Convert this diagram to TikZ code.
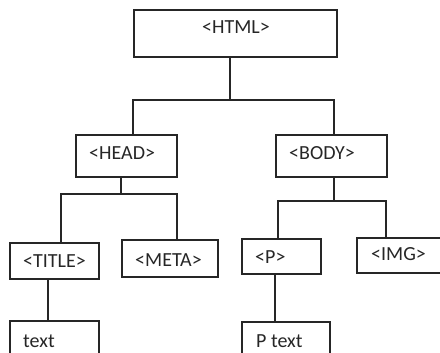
\documentclass[tikz,border=0pt]{standalone}
\usepackage{fontspec}
\setmainfont{Carlito}
\begin{document}
\begin{tikzpicture}[x=1pt,y=-1pt,
  box/.style={draw=black!85, line width=1.4pt, inner sep=0pt, outer sep=0pt, anchor=north west},
  lbl/.style={inner sep=0pt, anchor=base west, font=\fontsize{20}{22}\selectfont, text=black!85},
  conn/.style={draw=black!85, line width=1.4pt}]
\useasboundingbox (0,0) rectangle (440,353);
% boxes
\node[box, minimum width=203pt, minimum height=47pt] (html) at (134,10) {};
\node[box, minimum width=101pt, minimum height=42pt] (head) at (76,135) {};
\node[box, minimum width=111pt, minimum height=42pt] (body) at (276,135) {};
\node[box, minimum width=89pt, minimum height=36pt] (title) at (10,243) {};
\node[box, minimum width=96pt, minimum height=37pt] (meta) at (122,240) {};
\node[box, minimum width=79pt, minimum height=35pt] (p) at (242,239) {};
\node[box, minimum width=86pt, minimum height=35pt] (img) at (357,238) {};
\node[box, minimum width=89pt, minimum height=40pt] (txt) at (10,321) {};
\node[box, minimum width=88pt, minimum height=40pt] (ptxt) at (242,322) {};
% labels
\node[lbl] (lhtml) at (202,34) {<HTML>};
\node[lbl] (lhead) at (89,160) {<HEAD>};
\node[lbl] (lbody) at (289,160) {<BODY>};
\node[lbl] (ltitle) at (23,268) {<TITLE>};
\node[lbl] (lmeta) at (135,266) {<META>};
\node[lbl] (lp) at (255,263) {<P>};
\node[lbl] (limg) at (371,261) {<IMG>};
\node[lbl] (ltxt) at (23,347) {text};
\node[lbl] (lptxt) at (256,347) {P text};
% junctions
\coordinate (hm) at (230,100);
\coordinate (hl) at (133,100);
\coordinate (hr) at (334,100);
\coordinate (em) at (121,194);
\coordinate (el) at (61,194);
\coordinate (er) at (177,194);
\coordinate (bm) at (334,201);
\coordinate (bl) at (278,201);
\coordinate (br) at (386,201);
\coordinate (tx) at (48,300);
\coordinate (px) at (275,300);
% connectors
\draw[conn] (html.south -| hm) -- (hm);
\draw[conn] (head.north -| hl) -- (hl) -- (hr) -- (body.north -| hr);
\draw[conn] (head.south -| em) -- (em);
\draw[conn] (title.north -| el) -- (el) -- (er) -- (meta.north -| er);
\draw[conn] (body.south -| bm) -- (bm);
\draw[conn] (p.north -| bl) -- (bl) -- (br) -- (img.north -| br);
\draw[conn] (title.south -| tx) -- (txt.north -| tx);
\draw[conn] (p.south -| px) -- (ptxt.north -| px);
\end{tikzpicture}
\end{document}
